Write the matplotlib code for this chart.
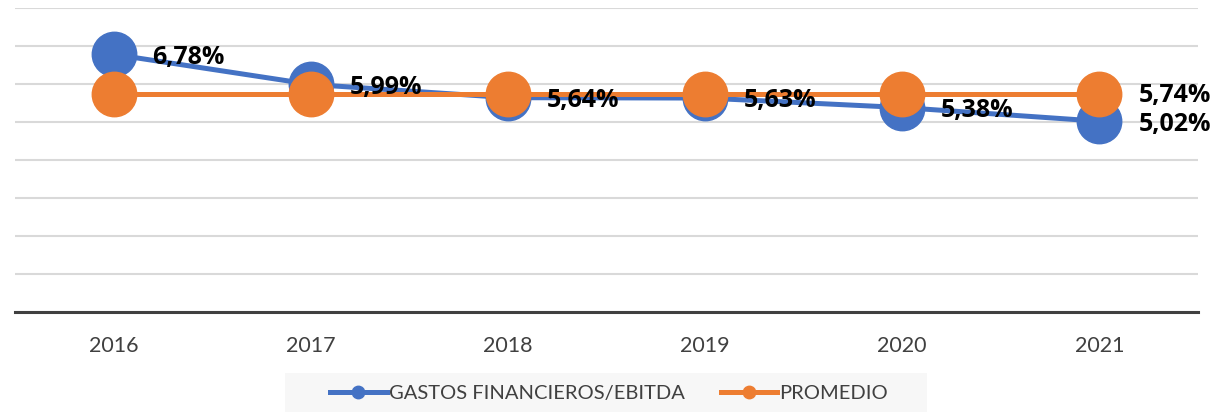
import matplotlib
matplotlib.use('Agg')
import matplotlib.pyplot as plt
from matplotlib.patches import Rectangle

years = ['2016', '2017', '2018', '2019', '2020', '2021']
gastos_ebitda = [6.78, 5.99, 5.64, 5.63, 5.38, 5.02]
promedio = [5.74, 5.74, 5.74, 5.74, 5.74, 5.74]

BLUE = '#4472c4'
ORANGE = '#ed7d31'

plt.rcParams['font.family'] = ['Lato', 'DejaVu Sans']

W, H = 1220, 412
fig = plt.figure(figsize=(W / 100, H / 100), dpi=100)
ax = fig.add_axes([15 / W, 1 - 312 / H, (1198 - 15) / W, (312 - 8) / H])

x = list(range(len(years)))
ax.plot(x, gastos_ebitda, color=BLUE, lw=3.6, marker='o', ms=32, zorder=3,
        label='GASTOS FINANCIEROS/EBITDA')
ax.plot(x, promedio, color=ORANGE, lw=3.6, marker='o', ms=32, zorder=4,
        label='PROMEDIO')

lbl_font = dict(fontsize=18, fontweight='bold', family=['Open Sans', 'DejaVu Sans'],
                color='black', zorder=6)
for xi, v in zip(x, gastos_ebitda):
    ax.annotate(f'{v:.2f}%'.replace('.', ','), (xi, v), xytext=(28, -2),
                textcoords='offset points', ha='left', va='center', **lbl_font)
ax.annotate(f'{promedio[-1]:.2f}%'.replace('.', ','), (x[-1], promedio[-1]),
            xytext=(28, -1), textcoords='offset points', ha='left', va='center',
            **lbl_font)

ax.set_xlim(-0.5, len(years) - 0.5)
ax.set_ylim(0, 8)
ax.set_yticks(range(0, 9))
ax.yaxis.grid(True, color='#d9d9d9', lw=1.5, zorder=0)
ax.set_axisbelow(True)
ax.tick_params(axis='y', length=0, labelleft=False)
ax.set_xticks(x)
ax.set_xticklabels(years, fontsize=15.5, color='#404040')
ax.tick_params(axis='x', length=0, pad=17)
for side in ['top', 'right', 'left']:
    ax.spines[side].set_visible(False)
ax.spines['bottom'].set_color('#404040')
ax.spines['bottom'].set_linewidth(2.2)

# legend background band
fig.patches.append(Rectangle((285 / W, 0), (927 - 285) / W, (H - 373) / H,
                             transform=fig.transFigure, facecolor='#f7f7f7',
                             edgecolor='none', zorder=0))
leg = fig.legend(loc='center', bbox_to_anchor=(609 / W, 1 - 393 / H), ncol=2,
                 fontsize=14.5, frameon=False, handlelength=2.8,
                 markerscale=0.28, columnspacing=1.8, handletextpad=0.1,
                 borderaxespad=0)
for t in leg.get_texts():
    t.set_color('#404040')

fig.savefig('out.png', dpi=100)
